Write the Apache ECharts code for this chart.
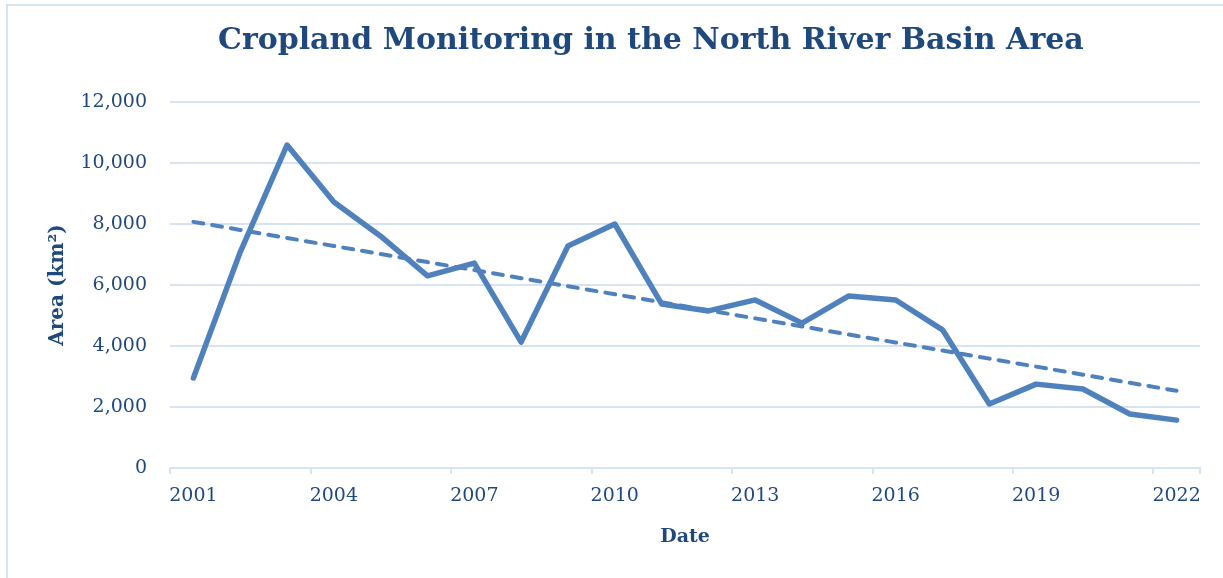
<!DOCTYPE html>
<html>
<head>
<meta charset="utf-8">
<script src="https://cdn.jsdelivr.net/npm/echarts@6/dist/echarts.min.js"></script>
<style>
  html, body { margin: 0; padding: 0; background: #fff; }
  #chart { width: 1223px; height: 578px; }
</style>
</head>
<body>
<div id="chart"></div>
<script>
// cropland area per year, km2
const years = ['2001', '2002', '2003', '2004', '2005', '2006', '2007', '2008', '2009', '2010', '2011',
  '2012', '2013', '2014', '2015', '2016', '2017', '2018', '2019', '2020', '2021', '2022'];
const area = [2950, 7080, 10590, 8720, 7600, 6300, 6720, 4130, 7280, 8000, 5380,
  5150, 5510, 4750, 5640, 5510, 4530, 2100, 2750, 2590, 1770, 1570];

// linear trendline (least squares), like the spreadsheet one
function linearTrend(vals) {
  const n = vals.length;
  let sx = 0, sy = 0, sxy = 0, sxx = 0;
  vals.forEach((y, i) => { sx += i; sy += y; sxy += i * y; sxx += i * i; });
  const slope = (n * sxy - sx * sy) / (n * sxx - sx * sx);
  const icpt = (sy - slope * sx) / n;
  return vals.map((_, i) => +(icpt + slope * i).toFixed(1));
}
const trend = linearTrend(area);

const textColor = '#1F497D';
const lineColor = '#4F81BD';
const gridColor = '#D6E3F3';
const font = '"DejaVu Serif", "Liberation Serif", serif';

const chart = echarts.init(document.getElementById('chart'));
chart.setOption({
  backgroundColor: '#fff',
  animation: false,
  graphic: [{
    type: 'rect',
    shape: { x: 7, y: 5, width: 1240, height: 600 },
    style: { fill: 'none', stroke: '#D6E3F3', lineWidth: 2 },
    silent: true
  }],
  title: {
    text: 'Cropland Monitoring in the North River Basin Area',
    left: 213,
    top: 21,
    textStyle: { fontFamily: font, fontWeight: 'bold', fontSize: 30, color: textColor }
  },
  grid: { left: 170, right: 23, top: 102, bottom: 110 },
  xAxis: {
    type: 'category',
    data: years,
    boundaryGap: true,
    name: 'Date',
    nameLocation: 'middle',
    nameGap: 60,
    nameTextStyle: { fontFamily: font, fontWeight: 'bold', fontSize: 19, color: textColor },
    axisLine: { lineStyle: { color: gridColor, width: 2 } },
    axisTick: { show: true, interval: 2, length: 6, lineStyle: { color: gridColor, width: 2 } },
    axisLabel: { interval: 2, margin: 19, fontFamily: font, fontSize: 19, color: textColor },
    splitLine: { show: false }
  },
  yAxis: {
    type: 'value',
    min: 0,
    max: 12000,
    interval: 2000,
    name: 'Area (km²)',
    nameLocation: 'middle',
    nameGap: 102,
    nameTextStyle: { fontFamily: font, fontWeight: 'bold', fontSize: 20, color: textColor },
    axisLine: { show: false },
    axisTick: { show: false },
    axisLabel: {
      margin: 23, fontFamily: font, fontSize: 19, color: textColor,
      formatter: v => v.toLocaleString('en-US')
    },
    splitLine: { lineStyle: { color: gridColor, width: 2 } }
  },
  series: [
    {
      name: 'Area',
      type: 'line',
      data: area,
      symbol: 'none',
      lineStyle: { color: lineColor, width: 5.5, cap: 'round', join: 'round' },
      z: 3
    },
    {
      name: 'Trend',
      type: 'line',
      data: trend,
      symbol: 'none',
      lineStyle: { color: lineColor, width: 4, type: [10, 9], cap: 'round' },
      z: 4
    }
  ]
});
</script>
</body>
</html>
